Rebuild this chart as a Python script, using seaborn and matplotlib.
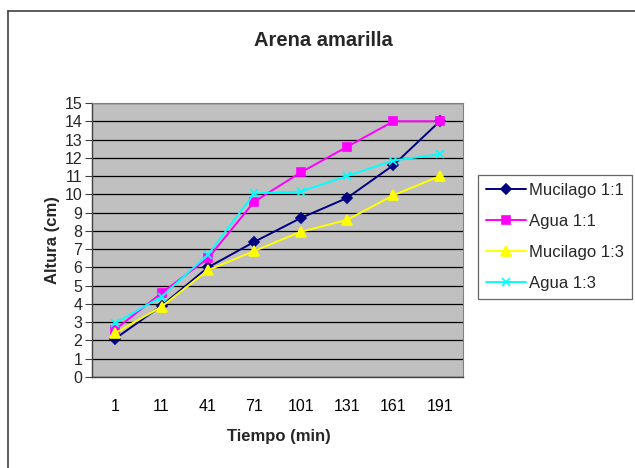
import matplotlib
matplotlib.use("Agg")
import matplotlib.pyplot as plt
import seaborn as sns
import pandas as pd
from matplotlib.lines import Line2D
from matplotlib.ticker import FixedLocator, MultipleLocator

tiempo = ["1", "11", "41", "71", "101", "131", "161", "191"]
mucilago_11 = [2.1, 3.9, 6.0, 7.4, 8.7, 9.8, 11.6, 14.0]
agua_11 = [2.6, 4.6, 6.5, 9.6, 11.2, 12.6, 14.0, 14.0]
mucilago_13 = [2.4, 3.85, 5.85, 6.9, 7.95, 8.6, 9.95, 11.0]
agua_13 = [2.95, 4.4, 6.7, 10.05, 10.15, 11.0, 11.85, 12.2]
series_names = ["Mucilago 1:1", "Agua 1:1", "Mucilago 1:3", "Agua 1:3"]
series_values = [mucilago_11, agua_11, mucilago_13, agua_13]

sns.set_theme(style="white")
plt.rcParams["font.family"] = ["Liberation Sans", "DejaVu Sans"]

fig = plt.figure(figsize=(6.35, 4.68), dpi=100)
fig.patch.set_facecolor("white")
ax = fig.add_axes([92/635, 1-377/468, (463-92)/635, (377-103)/468])
ax.set_facecolor("#C0C0C0")

palette = {"Mucilago 1:1": "#000080", "Agua 1:1": "#FF00FF",
           "Mucilago 1:3": "#FFFF00", "Agua 1:3": "#00FFFF"}
markers = {"Mucilago 1:1": "D", "Agua 1:1": "s", "Mucilago 1:3": "^", "Agua 1:3": "x"}
sizes = {"Mucilago 1:1": 5, "Agua 1:1": 6, "Mucilago 1:3": 7, "Agua 1:3": 6}

for name, vals in zip(series_names, series_values):
    d = pd.DataFrame({"Tiempo": tiempo, "Altura": vals})
    sns.lineplot(data=d, x="Tiempo", y="Altura", color=palette[name],
                 marker=markers[name], markersize=sizes[name],
                 markeredgecolor=palette[name], markeredgewidth=1.2,
                 linewidth=1.4, sort=False, label=name, ax=ax)

ax.set_xlim(-0.5, len(tiempo) - 0.5)
ax.set_ylim(0, 15)
ax.yaxis.set_major_locator(MultipleLocator(1))
ax.grid(axis="y", color="#000000", linewidth=0.9)
ax.set_axisbelow(True)
ax.xaxis.set_minor_locator(FixedLocator([i - 0.5 for i in range(len(tiempo) + 1)]))
ax.tick_params(axis="x", which="major", length=0, labelsize=11.5, pad=16, colors="black")
ax.tick_params(axis="x", which="minor", length=4, width=0.8, direction="out", color="#404040")
ax.tick_params(axis="y", which="major", length=5, width=0.8, direction="out", labelsize=11.5,
               color="#404040", pad=2, left=True)
for s in ["top", "right"]:
    ax.spines[s].set_color("#808080")
    ax.spines[s].set_linewidth(0.8)
for s in ["left", "bottom"]:
    ax.spines[s].set_color("#404040")
    ax.spines[s].set_linewidth(1.0)

ax.set_xlabel("Tiempo (min)", fontsize=12, fontweight="bold", va="center")
ax.xaxis.set_label_coords((279-92)/371, (377-437)/274)
ax.set_ylabel("Altura (cm)", fontsize=12, fontweight="bold", va="center")
ax.yaxis.set_label_coords((52-92)/371, (377-240)/274)
fig.text(323/635, 1-40/468, "Arena amarilla", ha="center", va="center",
         fontsize=14.5, fontweight="bold")

handles, labels = ax.get_legend_handles_labels()
ax.legend_.remove()
leg = fig.legend(handles, labels, loc="upper left", bbox_to_anchor=(478/635, 1-175/468),
                 frameon=True, fancybox=False, edgecolor="#404040", fontsize=12,
                 handlelength=2.4, handletextpad=0.15, labelspacing=0.95,
                 borderpad=0.5, borderaxespad=0)
leg.get_frame().set_linewidth(0.9)

fig.add_artist(Line2D([8/635, 8/635], [0, 1-11/468], transform=fig.transFigure,
                      color="#404040", linewidth=1.2))
fig.add_artist(Line2D([8/635, 1], [1-11/468, 1-11/468], transform=fig.transFigure,
                      color="#404040", linewidth=1.2))

fig.savefig("out.png", dpi=100, facecolor="white")
